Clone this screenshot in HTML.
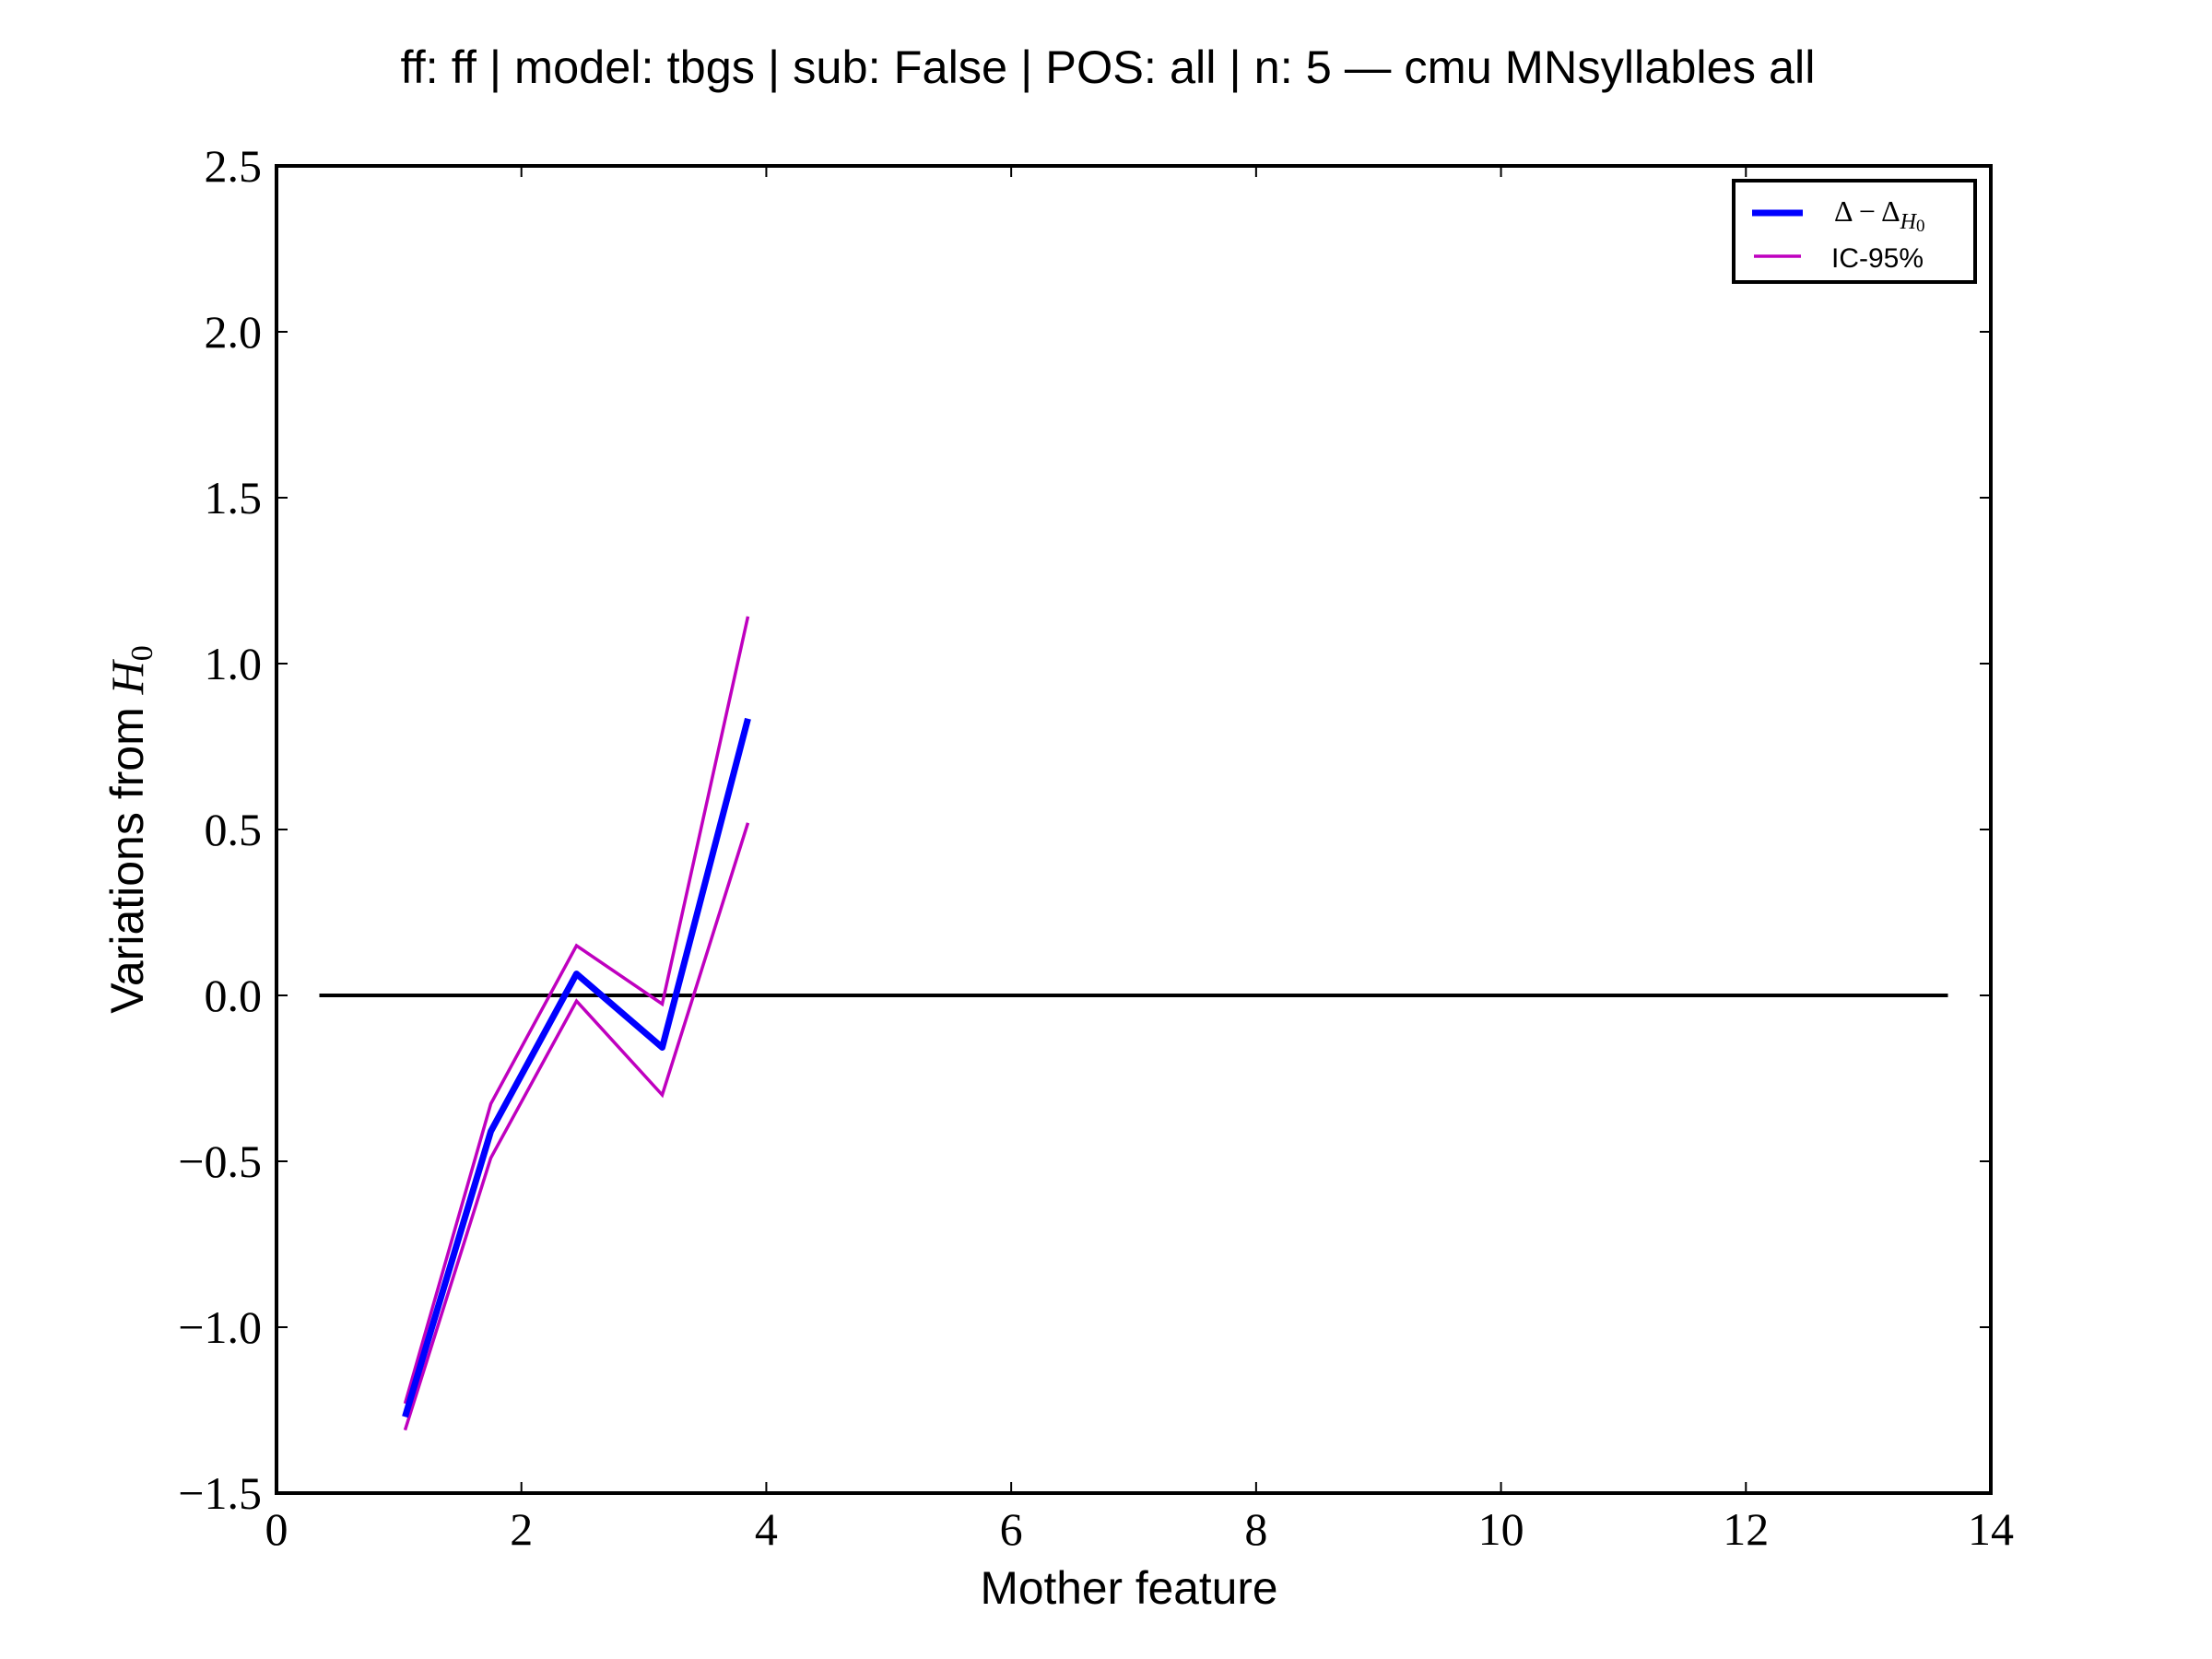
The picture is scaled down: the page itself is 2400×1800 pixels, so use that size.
<!DOCTYPE html>
<html><head><meta charset="utf-8"><style>
html,body{margin:0;padding:0;background:#fff;}
svg{display:block;}
.serif{font-family:"Liberation Serif",serif;}
.sans{font-family:"Liberation Sans",sans-serif;}
</style></head><body>
<svg id="chart" width="2400" height="1800" viewBox="0 0 2400 1800" xmlns="http://www.w3.org/2000/svg">
<rect width="2400" height="1800" fill="#fff"/>
<text class="sans" x="1202" y="90" font-size="50" text-anchor="middle" textLength="1535" lengthAdjust="spacingAndGlyphs">ff: ff | model: tbgs | sub: False | POS: all | n: 5 — cmu MNsyllables all</text>
<g id="ticks"></g>
<g id="series"></g>
<rect x="300" y="180" width="1860" height="1440" fill="none" stroke="#000" stroke-width="4"/>
<text class="sans" x="1225" y="1740" font-size="50" text-anchor="middle" textLength="323" lengthAdjust="spacingAndGlyphs">Mother feature</text>
<text class="sans" x="0" y="0" font-size="50" text-anchor="middle" transform="translate(155,900) rotate(-90)">Variations from <tspan class="serif" font-style="italic">H</tspan><tspan class="serif" font-size="34" dy="10">0</tspan></text>
<g>
<rect x="1881" y="196" width="262" height="110" fill="#fff" stroke="#000" stroke-width="4"/>
<line x1="1901" y1="231" x2="1956" y2="231" stroke="#0000ff" stroke-width="7"/>
<text class="serif" x="1990" y="240" font-size="32">Δ − Δ<tspan font-style="italic" font-size="24" dy="8">H</tspan><tspan font-size="19" dy="3">0</tspan></text>
<line x1="1903" y1="278" x2="1954" y2="278" stroke="#bf00bf" stroke-width="3.5"/>
<text class="sans" x="1987" y="290" font-size="30">IC-95%</text>
</g>
</svg>
<script>
const xValues = [1.05, 1.75, 2.45, 3.15, 3.85];
const deltaValues = [-1.27, -0.41, 0.065, -0.157, 0.834];
const upperValues = [-1.23, -0.327, 0.15, -0.026, 1.142];
const lowerValues = [-1.31, -0.49, -0.017, -0.30, 0.52];
const zeroLineX = [0.35, 13.65];
const xTicks = [0, 2, 4, 6, 8, 10, 12, 14];
const yTicks = [-1.5, -1.0, -0.5, 0.0, 0.5, 1.0, 1.5, 2.0, 2.5];

const NS = 'http://www.w3.org/2000/svg';
const X0 = 300, X1 = 2160, Y0 = 1620, Y1 = 180;
const xMin = 0, xMax = 14, yMin = -1.5, yMax = 2.5;
function sx(v){ return X0 + (v - xMin) / (xMax - xMin) * (X1 - X0); }
function sy(v){ return Y0 - (v - yMin) / (yMax - yMin) * (Y0 - Y1); }
function mk(tag, attrs){ const e = document.createElementNS(NS, tag); for (const k in attrs) e.setAttribute(k, attrs[k]); return e; }

const ticks = document.getElementById('ticks');
xTicks.forEach(t => {
  const x = sx(t);
  const l1 = mk('line', {x1:x, y1:Y0, x2:x, y2:Y0-12, stroke:'#000', 'stroke-width':2});
  
  
  ticks.appendChild(l1);
  const l2 = mk('line', {x1:x, y1:Y1, x2:x, y2:Y1+12, stroke:'#000', 'stroke-width':2});
  
  
  ticks.appendChild(l2);
  const tx = mk('text', {x:x, y:1676, 'font-size':50, 'text-anchor':'middle', class:'serif'});
  tx.textContent = String(t);
  
  
  ticks.appendChild(tx);
});
yTicks.forEach(t => {
  const y = sy(t);
  const l1 = mk('line', {x1:X0, y1:y, x2:X0+12, y2:y, stroke:'#000', 'stroke-width':2});
  
  
  ticks.appendChild(l1);
  const l2 = mk('line', {x1:X1, y1:y, x2:X1-12, y2:y, stroke:'#000', 'stroke-width':2});
  
  
  ticks.appendChild(l2);
  const tx = mk('text', {x:284, y:y+17, 'font-size':50, 'text-anchor':'end', class:'serif'});
  tx.textContent = (t < 0 ? '\u2212' : '') + Math.abs(t).toFixed(1);
  
  
  ticks.appendChild(tx);
});

const series = document.getElementById('series');
const zl = mk('line', {x1:sx(zeroLineX[0]), y1:sy(0), x2:sx(zeroLineX[1]), y2:sy(0), stroke:'#000', 'stroke-width':4});


series.appendChild(zl);
function poly(vals){
  return vals.map((v,i) => sx(xValues[i]) + ',' + sy(v)).join(' ');
}
const up = mk('polyline', {points:poly(upperValues), fill:'none', stroke:'#bf00bf', 'stroke-width':3.5});


series.appendChild(up);
const lo = mk('polyline', {points:poly(lowerValues), fill:'none', stroke:'#bf00bf', 'stroke-width':3.5});


series.appendChild(lo);
const dl = mk('polyline', {points:poly(deltaValues), fill:'none', stroke:'#0000ff', 'stroke-width':7, 'stroke-linejoin':'round'});


series.appendChild(dl);
</script>
</body></html>
